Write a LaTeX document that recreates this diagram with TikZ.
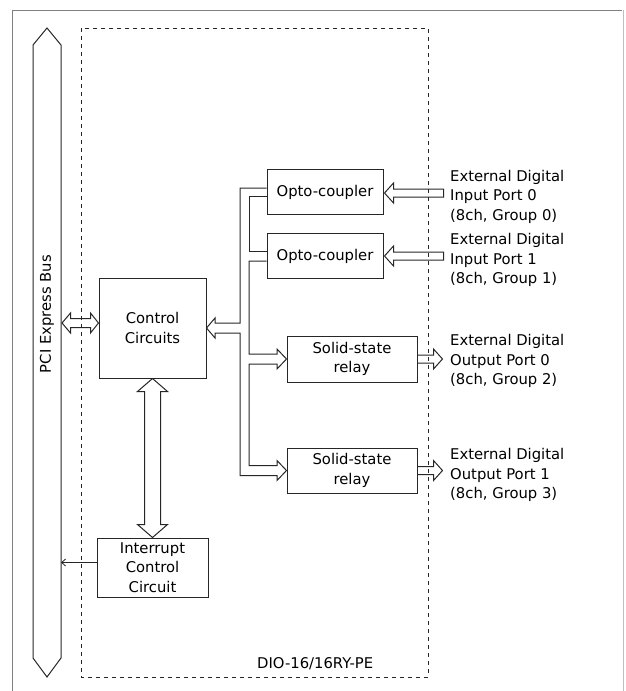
\documentclass[tikz,border=0pt]{standalone}
\usepackage{fontspec}
\setmainfont{DejaVu Sans}
\usetikzlibrary{calc,arrows.meta}
\begin{document}
\begin{tikzpicture}[x=1pt,y=-1pt,
  ln/.style={draw=black!85,line width=1pt,line join=miter},
  txt/.style={font=\fontsize{14.8}{19.5}\selectfont},
  blk/.style={ln,txt,rectangle,inner sep=0pt,align=center},
  ext/.style={txt,anchor=west,align=left,inner sep=0pt},
]
\useasboundingbox (0,0) rectangle (625,691);
% outer frame
\draw[draw=black!50,line width=0.9pt] (12,691) -- (12,10) -- (622,10);
\draw[draw=black!25,line width=0.9pt] (623.8,10) -- (623.8,691);
% board outline
\draw[ln,dashed,dash pattern=on 4pt off 4pt] (81,28) rectangle (428,677);
\node[txt,anchor=base west,inner sep=0pt] (board) at (257,668) {DIO-16/16RY-PE};
% PCI Express bus
\draw[ln] (33,45) -- (47,28) -- (61,45) -- (61,658) -- (47,677) -- (33,658) -- cycle;
\node[txt,rotate=90,inner sep=0pt] (bus) at (47,314) {PCI Express Bus};
% blocks
\node[blk,minimum width=107pt,minimum height=100pt] (ctrl) at (152.5,328) {Control\\Circuits};
\node[blk,minimum width=116pt,minimum height=45pt] (opto1) at (325,192) {Opto-coupler};
\node[blk,minimum width=116pt,minimum height=45pt] (opto2) at (325,256) {Opto-coupler};
\node[blk,minimum width=130pt,minimum height=46pt] (ssr1) at (352,359) {Solid-state\\relay};
\node[blk,minimum width=130pt,minimum height=45pt] (ssr2) at (352,470.5) {Solid-state\\relay};
\node[blk,minimum width=111pt,minimum height=59pt] (intr) at (152.5,567.5) {Interrupt\\Control\\Circuit};
% external labels
\node[ext] (in0) at (450,196.5) {External Digital\\Input Port 0\\(8ch, Group 0)};
\node[ext] (in1) at (450,260) {External Digital\\Input Port 1\\(8ch, Group 1)};
\node[ext] (out0) at (450,361) {External Digital\\Output Port 0\\(8ch, Group 2)};
\node[ext] (out1) at (450,475) {External Digital\\Output Port 1\\(8ch, Group 3)};
% bus <-> control
\draw[ln] ($(ctrl.west)+(0,-5)$) -- ++(-8,-10) -- ++(0,5.5) -- ++(-20,0) -- ++(0,-5.5)
  -- ++(-8.5,10) -- ++(8.5,10) -- ++(0,-5.5) -- ++(20,0) -- ++(0,5.5) -- cycle;
% control <-> interrupt
\draw[ln] (ctrl.south) -- ++(15,13) -- ++(-7,0) |- ($(intr.north)+(8,-13)$) -- ++(7,0)
  -- (intr.north) -- ++(-15,-13) -- ++(7,0) |- ($(ctrl.south)+(-8,13)$) -- ++(-7,0) -- cycle;
% interrupt -> bus
\draw[draw=black!85,line width=0.8pt,-{Straight Barb[length=4pt,width=7pt]}] ($(intr.west)+(0,-5)$) -- ($(intr.west)+(-35.5,-5)$);
% internal hollow bus
\draw[ln] ($(opto1.west)+(0,-4)$) -| (240,323) -- (215,323) -- (215,318) -- (ctrl.east)
  -- (215,338) -- (215,333) -| (240,475.5) -- (277,475.5) -- (277,480.5) -- (ssr2.west)
  -- (277,460.5) -- (277,465.5) -| (249,364) -- (277,364) -- (277,369) -- (ssr1.west)
  -- (277,349) -- (277,354) -| (249,261) -- ($(opto2.west)+(0,5)$);
\draw[ln] ($(opto1.west)+(0,4)$) -| (249,251) -- ($(opto2.west)+(0,-5)$);
% inputs
\draw[ln] ($(opto1.east)+(1,1)$) -- ++(9,-10) -- ++(0,6) -- ++(50,0) -- ++(0,8) -- ++(-50,0) -- ++(0,6) -- cycle;
\draw[ln] ($(opto2.east)+(1,0)$) -- ++(9,-10) -- ++(0,6) -- ++(50,0) -- ++(0,8) -- ++(-50,0) -- ++(0,6) -- cycle;
% outputs
\draw[ln] ($(ssr1.east)+(0,-4)$) -- ++(16,0) -- ++(0,-6) -- ++(9,10) -- ++(-9,10) -- ++(0,-6) -- ++(-16,0);
\draw[ln] ($(ssr2.east)+(0,-4)$) -- ++(16,0) -- ++(0,-6) -- ++(9,10) -- ++(-9,10) -- ++(0,-6) -- ++(-16,0);
\end{tikzpicture}
\end{document}
